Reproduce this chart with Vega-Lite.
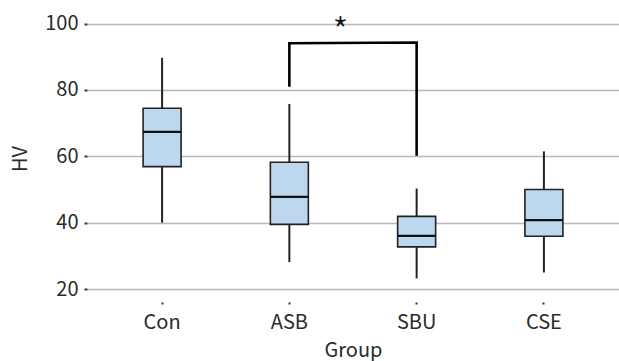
{
  "$schema": "https://vega.github.io/schema/vega-lite/v6.json",
  "width": 532,
  "height": 283,
  "autosize": {"type": "none"},
  "padding": {"left": 87, "top": 17, "right": 0, "bottom": 61},
  "background": "white",
  "config": {
    "view": {"stroke": null},
    "font": "Noto Sans CJK KR",
    "axis": {
      "labelFont": "Noto Sans CJK KR",
      "titleFont": "Noto Sans CJK KR",
      "labelFontSize": 20,
      "titleFontSize": 20,
      "titleFontWeight": "normal",
      "labelColor": "#2a2a2a",
      "titleColor": "#2a2a2a",
      "domain": false,
      "tickColor": "#333333",
      "tickWidth": 2
    }
  },
  "datasets": {
    "boxes": [
      {"Group": "Con", "lower": 40, "q1": 56.9, "median": 67.4, "q3": 74.5, "upper": 89.7},
      {"Group": "ASB", "lower": 28.1, "q1": 39.5, "median": 47.8, "q3": 58.2, "upper": 75.8},
      {"Group": "SBU", "lower": 23.2, "q1": 32.7, "median": 36.0, "q3": 41.9, "upper": 50.3},
      {"Group": "CSE", "lower": 25.0, "q1": 35.9, "median": 40.8, "q3": 50.0, "upper": 61.5}
    ],
    "bracket": [
      {"Group": "ASB", "v": 81, "o": 1},
      {"Group": "ASB", "v": 94.1, "o": 2},
      {"Group": "SBU", "v": 94.3, "o": 3},
      {"Group": "SBU", "v": 60.2, "o": 4}
    ],
    "sig": [
      {"Group": "ASB", "v": 100, "label": "*"}
    ]
  },
  "layer": [
    {
      "data": {"name": "boxes"},
      "mark": {"type": "rule", "color": "#222222", "strokeWidth": 2},
      "encoding": {
        "x": {
          "field": "Group", "type": "nominal",
          "sort": ["Con", "ASB", "SBU", "CSE"],
          "scale": {"paddingInner": 0.5, "paddingOuter": 0.34},
          "axis": {"labelAngle": 0, "title": "Group", "offset": 2, "tickSize": 2, "labelPadding": 8, "titlePadding": 8, "grid": false}
        },
        "y": {
          "field": "lower", "type": "quantitative",
          "scale": {"domain": [16.7, 102], "nice": false, "zero": false},
          "axis": {"values": [20, 40, 60, 80, 100], "title": "HV", "grid": true, "gridColor": "#b8b8b8", "gridWidth": 1.6, "tickSize": 3, "labelPadding": 6, "titlePadding": 14}
        },
        "y2": {"field": "upper"}
      }
    },
    {
      "data": {"name": "boxes"},
      "mark": {"type": "bar", "size": 38, "fill": "#bdd7ef", "stroke": "#222222", "strokeWidth": 1.6},
      "encoding": {
        "x": {"field": "Group", "type": "nominal", "sort": ["Con", "ASB", "SBU", "CSE"]},
        "y": {"field": "q1", "type": "quantitative"},
        "y2": {"field": "q3"}
      }
    },
    {
      "data": {"name": "boxes"},
      "mark": {"type": "tick", "size": 38, "thickness": 2.2, "color": "#111111", "opacity": 1},
      "encoding": {
        "x": {"field": "Group", "type": "nominal", "sort": ["Con", "ASB", "SBU", "CSE"]},
        "y": {"field": "median", "type": "quantitative"}
      }
    },
    {
      "data": {"name": "bracket"},
      "mark": {"type": "line", "color": "#000000", "strokeWidth": 2.6, "strokeJoin": "miter"},
      "encoding": {
        "x": {"field": "Group", "type": "nominal", "sort": ["Con", "ASB", "SBU", "CSE"]},
        "y": {"field": "v", "type": "quantitative"},
        "order": {"field": "o"}
      }
    },
    {
      "data": {"name": "sig"},
      "mark": {"type": "text", "fontSize": 37, "fontWeight": 300, "dx": 51, "dy": 21, "baseline": "alphabetic", "align": "center", "color": "#111111", "font": "Noto Sans CJK KR"},
      "encoding": {
        "x": {"field": "Group", "type": "nominal", "sort": ["Con", "ASB", "SBU", "CSE"]},
        "y": {"field": "v", "type": "quantitative"},
        "text": {"field": "label"}
      }
    }
  ]
}
